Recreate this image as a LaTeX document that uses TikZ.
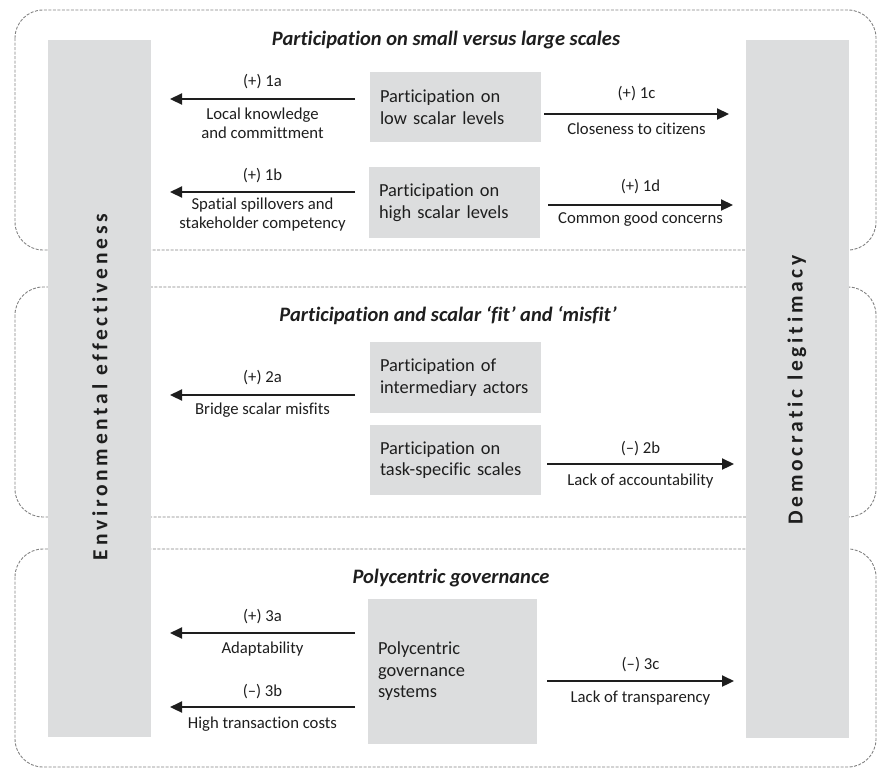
\documentclass[tikz,border=0pt]{standalone}
\usepackage{fontspec}
\setmainfont{Carlito}[Ligatures={NoCommon}]
\usetikzlibrary{arrows.meta}
\definecolor{barg}{HTML}{DCDDDE}
\definecolor{dashg}{HTML}{828282}
\definecolor{ink}{HTML}{1E1E1E}
\begin{document}
\begin{tikzpicture}[x=1pt,y=-1pt,
  sect/.style={draw=dashg, line width=0.9pt, dash pattern=on 3pt off 1.5pt, rounded corners=28pt},
  bar/.style={fill=barg, draw=none, inner sep=0pt},
  gbox/.style={fill=barg, draw=none, inner xsep=10pt, inner ysep=0pt, align=left, text width=#1,
    font=\fontsize{18.4}{21.5}\selectfont, text=ink},
  gbox/.default=151pt,
  arr/.style={line width=2.2pt, draw=ink, -{Triangle[length=12pt,width=11pt]}},
  lab/.style={font=\fontsize{16.7}{18.8}\selectfont, text=ink, align=center, inner sep=0pt},
  ttl/.style={font=\fontsize{20.5}{24}\selectfont\bfseries\itshape, text=ink, inner sep=0pt},
  vlab/.style={font=\fontsize{21.5}{25}\selectfont\bfseries\addfontfeature{LetterSpace=17.5}, text=ink, rotate=90, inner sep=0pt}
]
\useasboundingbox (0,0) rectangle (877,769);
% section frames
\draw[sect] (15,10) rectangle (876,250);
\draw[sect] (15,287) rectangle (876,517);
\draw[sect] (15,549) rectangle (876,767);
% side bars
\node[bar, minimum width=103pt, minimum height=697pt] (EE) at (99.5,388.5) {};
\node[bar, minimum width=103pt, minimum height=698pt] (DL) at (797.5,389) {};
\node[vlab] (EEl) at (100,387) {Environmental effectiveness};
\node[vlab] (DLl) at (797,390) {Democratic legitimacy};
% titles
\node[ttl] (T1) at (446,40) {Participation on small versus large scales};
\node[ttl] (T2) at (448,316) {Participation and scalar ‘fit’ and ‘misfit’};
\node[ttl] (T3) at (451,578) {Polycentric governance};
% central boxes
\node[gbox, minimum height=70pt] (A) at (455.5,107) {Participation on\\low scalar levels};
\node[gbox, minimum height=71pt] (B) at (454.5,202.5) {Participation on\\high scalar levels};
\node[gbox, minimum height=71pt] (C) at (455.5,377.5) {Participation of\\intermediary actors};
\node[gbox, minimum height=70pt] (D) at (455.5,460) {Participation on\\task-specific scales};
\node[gbox=149pt, minimum height=145pt] (E) at (452.5,671.5) {Polycentric\\governance\\systems};
% arrow ends
\coordinate (s1a) at (355,99);  \coordinate (e1a) at (170,99);
\coordinate (s1b) at (355,192); \coordinate (e1b) at (170,192);
\coordinate (s1c) at (544,114); \coordinate (e1c) at (729,114);
\coordinate (s1d) at (548,205); \coordinate (e1d) at (733,205);
\coordinate (s2a) at (355,395); \coordinate (e2a) at (170,395);
\coordinate (s2b) at (547,464); \coordinate (e2b) at (734,464);
\coordinate (s3a) at (355,633); \coordinate (e3a) at (170,633);
\coordinate (s3b) at (355,707); \coordinate (e3b) at (170,707);
\coordinate (s3c) at (547,681); \coordinate (e3c) at (734,681);
% arrows
\draw[arr] (s1a) -- node[lab, yshift=17pt] (l1a) {(+) 1a} node[lab, yshift=-24pt] (m1a) {Local knowledge\\and committment} (e1a);
\draw[arr] (s1b) -- node[lab, yshift=16pt] (l1b) {(+) 1b} node[lab, yshift=-22.5pt] (m1b) {Spatial spillovers and\\stakeholder competency} (e1b);
\draw[arr] (s1c) -- node[lab, yshift=20pt] (l1c) {(+) 1c} node[lab, yshift=-15pt] (m1c) {Closeness to citizens} (e1c);
\draw[arr] (s1d) -- node[lab, yshift=18pt] (l1d) {(+) 1d} node[lab, yshift=-14pt] (m1d) {Common good concerns} (e1d);
\draw[arr] (s2a) -- node[lab, yshift=17pt] (l2a) {(+) 2a} node[lab, yshift=-15pt] (m2a) {Bridge scalar misfits} (e2a);
\draw[arr] (s2b) -- node[lab, yshift=15pt] (l2b) {(–) 2b} node[lab, yshift=-17pt] (m2b) {Lack of accountability} (e2b);
\draw[arr] (s3a) -- node[lab, yshift=16pt] (l3a) {(+) 3a} node[lab, yshift=-16pt] (m3a) {Adaptability} (e3a);
\draw[arr] (s3b) -- node[lab, yshift=15pt] (l3b) {(–) 3b} node[lab, yshift=-17pt] (m3b) {High transaction costs} (e3b);
\draw[arr] (s3c) -- node[lab, yshift=16pt] (l3c) {(–) 3c} node[lab, yshift=-17pt] (m3c) {Lack of transparency} (e3c);
\end{tikzpicture}
\end{document}
